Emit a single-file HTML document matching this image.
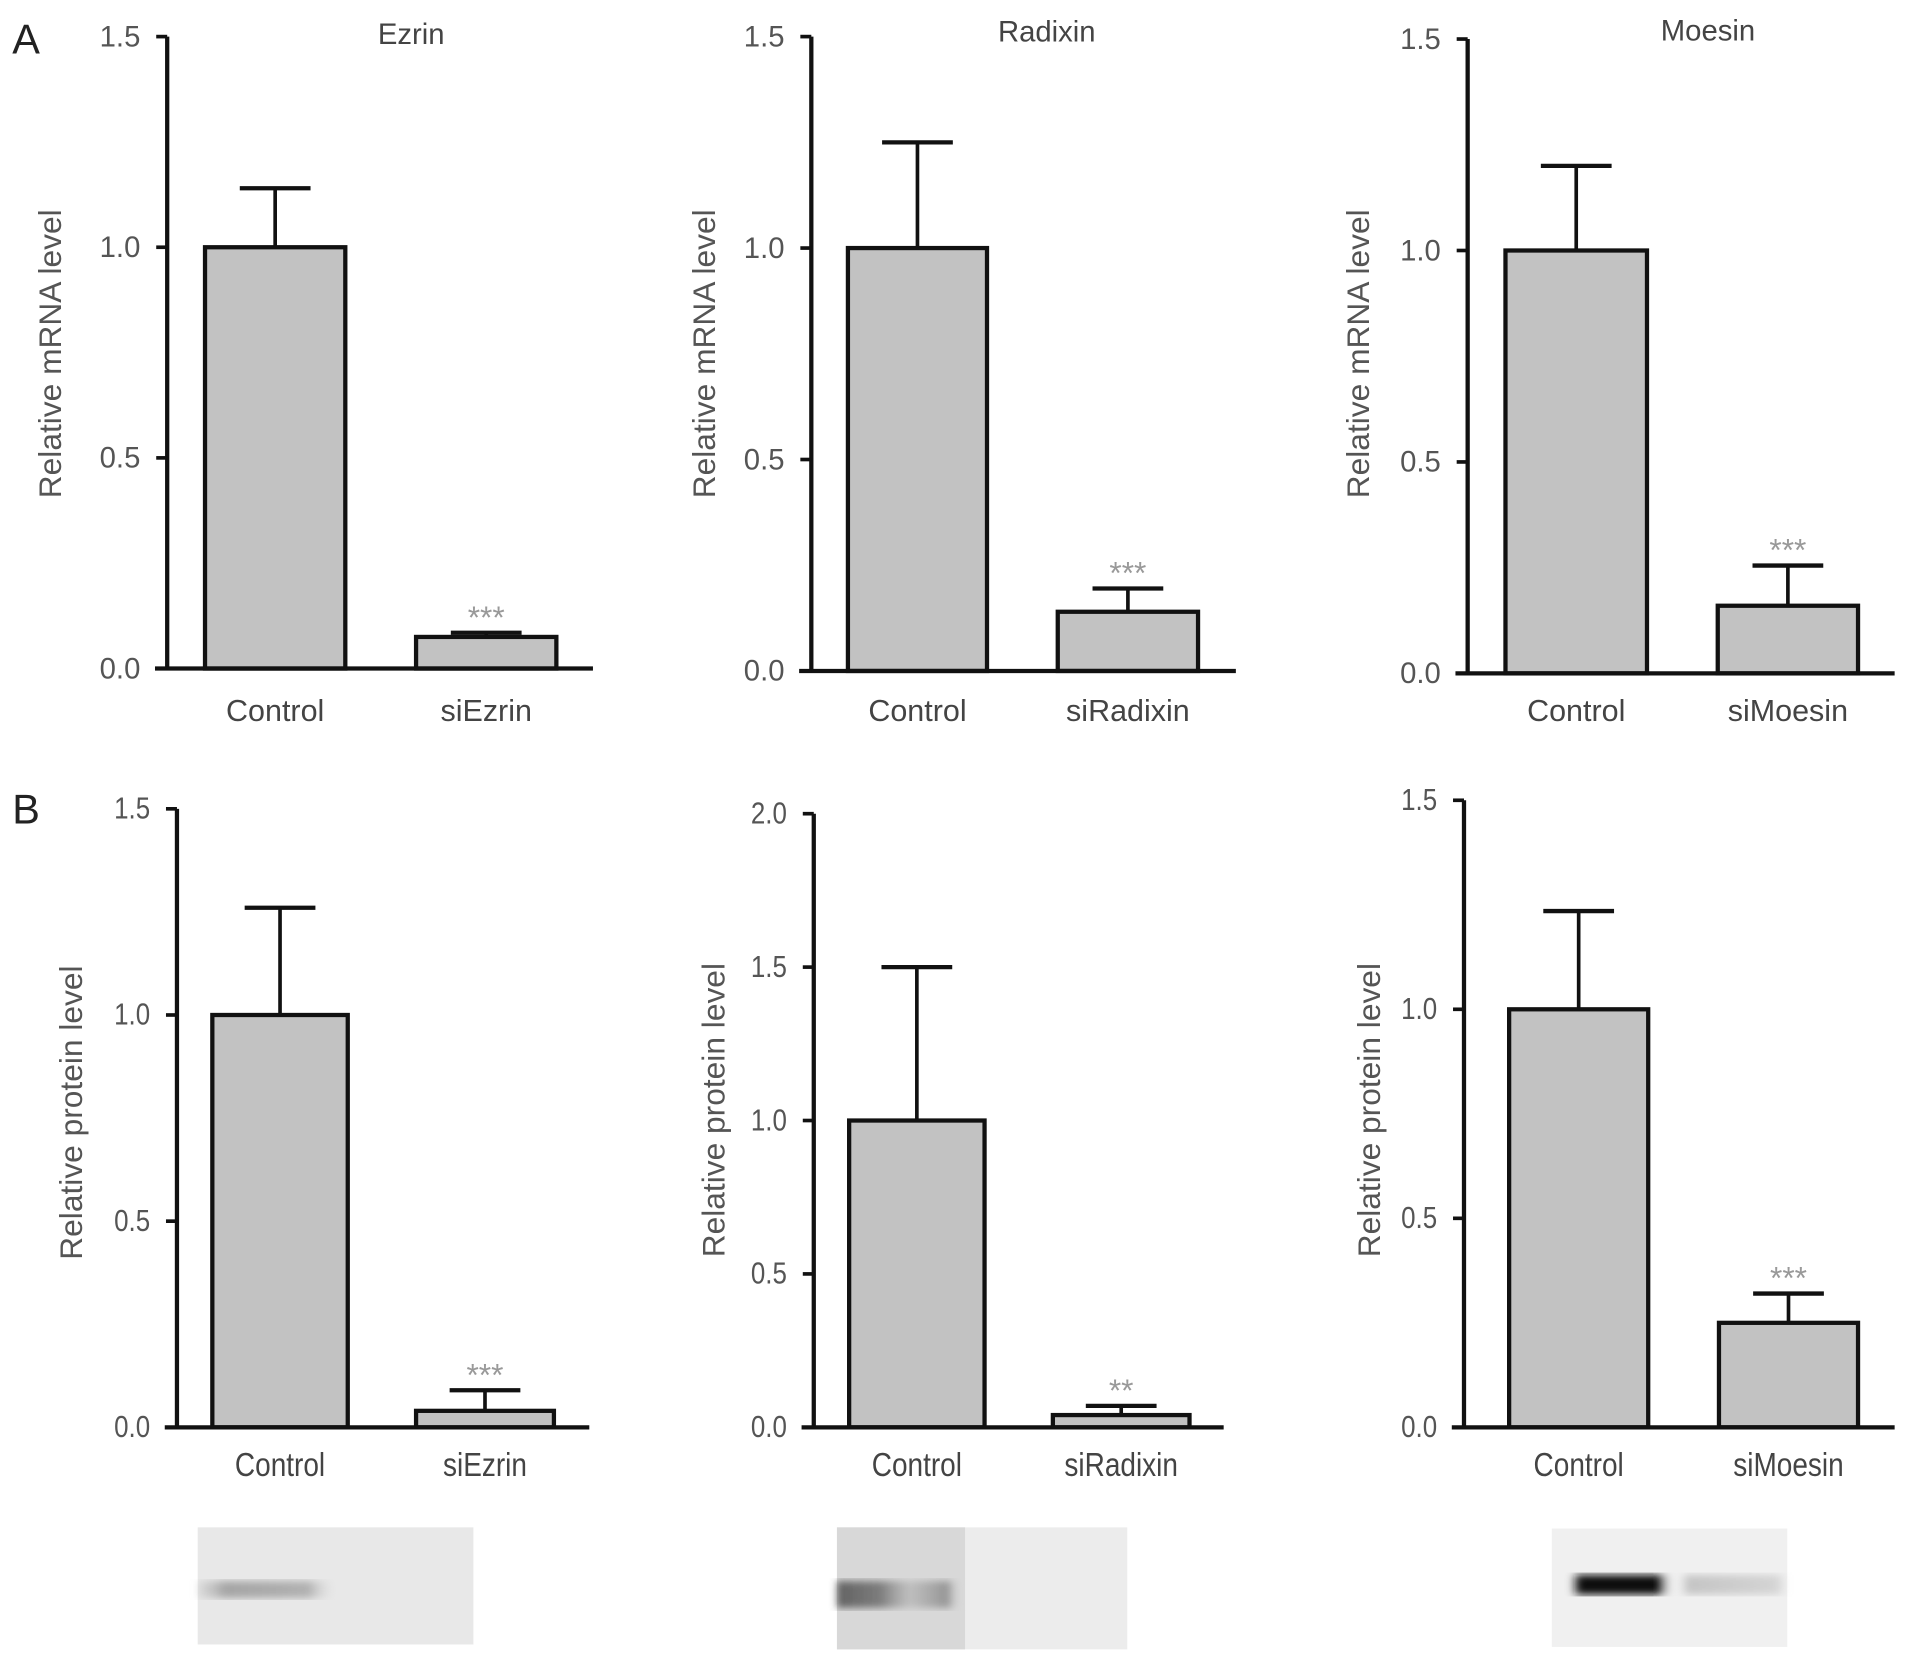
<!DOCTYPE html>
<html><head><meta charset="utf-8"><style>
html,body{margin:0;padding:0;background:#fff;}
svg{display:block;}
text{font-family:"Liberation Sans",sans-serif;}
</style></head><body>
<svg id="fig" width="1913" height="1664" viewBox="0 0 1568 1364" xmlns="http://www.w3.org/2000/svg">
<defs>
<linearGradient id="b1" x1="0" x2="1" y1="0" y2="0">
<stop offset="0" stop-color="#bbb" stop-opacity="0.3"/><stop offset="0.1" stop-color="#888" stop-opacity="0.7"/><stop offset="0.4" stop-color="#999" stop-opacity="0.7"/><stop offset="0.5" stop-color="#ddd" stop-opacity="0"/><stop offset="1" stop-color="#ddd" stop-opacity="0"/></linearGradient>
<linearGradient id="b2" x1="0" x2="1" y1="0" y2="0">
<stop offset="0" stop-color="#444" stop-opacity="0.8"/><stop offset="0.15" stop-color="#555" stop-opacity="0.7"/><stop offset="0.25" stop-color="#999" stop-opacity="0.4"/><stop offset="0.38" stop-color="#666" stop-opacity="0.6"/><stop offset="0.43" stop-color="#eee" stop-opacity="0"/><stop offset="1" stop-color="#eee" stop-opacity="0"/></linearGradient>
<linearGradient id="b3" x1="0" x2="1" y1="0" y2="0">
<stop offset="0.08" stop-color="#111" stop-opacity="0"/><stop offset="0.12" stop-color="#111" stop-opacity="1"/><stop offset="0.45" stop-color="#111" stop-opacity="1"/><stop offset="0.52" stop-color="#fff" stop-opacity="0"/><stop offset="0.58" stop-color="#999" stop-opacity="0.5"/><stop offset="0.95" stop-color="#aaa" stop-opacity="0.4"/><stop offset="1" stop-color="#aaa" stop-opacity="0"/></linearGradient>
<filter id="blur"><feGaussianBlur stdDeviation="3"/></filter>
</defs>
<text x="10" y="44" font-size="34" fill="#222">A</text>
<text x="10" y="675" font-size="34" fill="#222">B</text>
<g>
<rect x="162" y="1252" width="226" height="96" fill="#e8e8e8"/>
<rect x="162" y="1296" width="226" height="14" fill="url(#b1)" filter="url(#blur)"/>
</g>
<g>
<rect x="686" y="1252" width="238" height="100" fill="#ececec"/>
<rect x="686" y="1252" width="105" height="100" fill="#d8d8d8"/>
<rect x="686" y="1296" width="238" height="22" fill="url(#b2)" filter="url(#blur)"/>
</g>
<g>
<rect x="1272" y="1253" width="193" height="97" fill="#f0f0f0"/>
<rect x="1272" y="1291" width="193" height="16" fill="url(#b3)" filter="url(#blur)"/>
</g>
</svg>
<script>
// ---- data ----
const categoriesEzrin = ["Control","siEzrin"];
const categoriesRadixin = ["Control","siRadixin"];
const categoriesMoesin = ["Control","siMoesin"];
const mrnaEzrinValues = [1.0, 0.075];
const mrnaEzrinErrors = [0.14, 0.01];
const mrnaRadixinValues = [1.0, 0.14];
const mrnaRadixinErrors = [0.25, 0.055];
const mrnaMoesinValues = [1.0, 0.16];
const mrnaMoesinErrors = [0.2, 0.095];
const proteinEzrinValues = [1.0, 0.04];
const proteinEzrinErrors = [0.26, 0.05];
const proteinRadixinValues = [1.0, 0.04];
const proteinRadixinErrors = [0.5, 0.03];
const proteinMoesinValues = [1.0, 0.25];
const proteinMoesinErrors = [0.235, 0.07];
const ticks15 = ["0.0","0.5","1.0","1.5"];
const ticks20 = ["0.0","0.5","1.0","1.5","2.0"];
const sigEzrinMrna = "***", sigRadixinMrna = "***", sigMoesinMrna = "***";
const sigEzrinProt = "***", sigRadixinProt = "**", sigMoesinProt = "***";

const NS = "http://www.w3.org/2000/svg";
const svg = document.getElementById("fig");
function mk(tag, attrs, parent){
  const e = document.createElementNS(NS, tag);
  for (const k in attrs) e.setAttribute(k, attrs[k]);
  (parent||svg).appendChild(e); return e;
}
const panels = [
  {id:"mrna-ezrin", ax:137, y0:548, yTop:30, max:1.5, xEnd:486, bars:[[168,283],[341,456]], cats:categoriesEzrin, vals:mrnaEzrinValues, errs:mrnaEzrinErrors, ticks:ticks15, title:"Ezrin", tx:337, ty:36, yl:"Relative mRNA level", ylx:50, ylc:290, sig:sigEzrinMrna, catY:591, fs:24, cond:1},
  {id:"mrna-radixin", ax:665, y0:550, yTop:30, max:1.5, xEnd:1013, bars:[[695,809],[867,982]], cats:categoriesRadixin, vals:mrnaRadixinValues, errs:mrnaRadixinErrors, ticks:ticks15, title:"Radixin", tx:858, ty:34, yl:"Relative mRNA level", ylx:586, ylc:290, sig:sigRadixinMrna, catY:591, fs:24, cond:1},
  {id:"mrna-moesin", ax:1203, y0:552, yTop:32, max:1.5, xEnd:1553, bars:[[1234,1350],[1408,1523]], cats:categoriesMoesin, vals:mrnaMoesinValues, errs:mrnaMoesinErrors, ticks:ticks15, title:"Moesin", tx:1400, ty:33, yl:"Relative mRNA level", ylx:1122, ylc:290, sig:sigMoesinMrna, catY:591, fs:24, cond:1},
  {id:"protein-ezrin", ax:145, y0:1170, yTop:663, max:1.5, xEnd:483, bars:[[174,285],[341,454]], cats:categoriesEzrin, vals:proteinEzrinValues, errs:proteinEzrinErrors, ticks:ticks15, title:"", yl:"Relative protein level", ylx:67, ylc:912, sig:sigEzrinProt, catY:1210, fs:25, cond:0.85},
  {id:"protein-radixin", ax:667, y0:1170, yTop:667, max:2.0, xEnd:1003, bars:[[696,807],[863,975]], cats:categoriesRadixin, vals:proteinRadixinValues, errs:proteinRadixinErrors, ticks:ticks20, title:"", yl:"Relative protein level", ylx:594, ylc:910, sig:sigRadixinProt, catY:1210, fs:25, cond:0.85},
  {id:"protein-moesin", ax:1200, y0:1170, yTop:656, max:1.5, xEnd:1553, bars:[[1237,1351],[1409,1523]], cats:categoriesMoesin, vals:proteinMoesinValues, errs:proteinMoesinErrors, ticks:ticks15, title:"", yl:"Relative protein level", ylx:1131, ylc:910, sig:sigMoesinProt, catY:1210, fs:25, cond:0.85}
];
panels.forEach(p=>{
  const g = mk("g",{});
  
  
  const ys = v => p.y0 - (v/p.max)*(p.y0-p.yTop);
  p.vals.forEach((v,i)=>{
    const [x1,x2] = p.bars[i];
    const cx = (x1+x2)/2;
    const top = ys(v+p.errs[i]);
    const el = mk("line",{x1:cx,x2:cx,y1:ys(v),y2:top,stroke:"#111","stroke-width":3},g);
    
    
    const cap = mk("line",{x1:cx-29,x2:cx+29,y1:top,y2:top,stroke:"#111","stroke-width":3.5},g);
    
    
    const r = mk("rect",{x:x1,y:ys(v),width:x2-x1,height:p.y0-ys(v),fill:"#c2c2c2",stroke:"#111","stroke-width":3.5},g);
    
    
    const t = mk("text",{x:cx,y:p.catY,"text-anchor":"middle","font-size":p.cond<1?27:25,fill:"#444",transform:`translate(${cx*(1-p.cond)},0) scale(${p.cond},1)`},g);
    t.textContent = p.cats[i];
    
    
    if (i===1){
      const s = mk("text",{x:cx,y:top-4,"text-anchor":"middle","font-size":26,fill:"#999"},g);
      s.textContent = p.sig;
      
      
    }
  });
  const ya = mk("line",{x1:p.ax,x2:p.ax,y1:p.yTop,y2:p.y0+1.5,stroke:"#111","stroke-width":3.5},g);
  
  
  const xa = mk("line",{x1:p.ax-10,x2:p.xEnd,y1:p.y0,y2:p.y0,stroke:"#111","stroke-width":3.5},g);
  
  
  p.ticks.forEach(tl=>{
    const y = ys(parseFloat(tl));
    const tk = mk("line",{x1:p.ax-9,x2:p.ax,y1:y,y2:y,stroke:"#111","stroke-width":3},g);
    
    
    const tx = p.ax-22;
    const t = mk("text",{x:tx,y:y+8,"text-anchor":"end","font-size":p.fs,fill:"#555",transform:`translate(${tx*(1-p.cond)},0) scale(${p.cond},1)`},g);
    t.textContent = tl;
    
    
  });
  const cy = p.ylc;
  const yl = mk("text",{x:p.ylx,y:cy,"text-anchor":"middle","font-size":26,fill:"#555",transform:`rotate(-90 ${p.ylx} ${cy})`},g);
  yl.textContent = p.yl;
  
  
  if (p.title){
    const tt = mk("text",{x:p.tx,y:p.ty,"text-anchor":"middle","font-size":24,fill:"#444"},g);
    tt.textContent = p.title;
    
    
  }
});
</script>
</body></html>
